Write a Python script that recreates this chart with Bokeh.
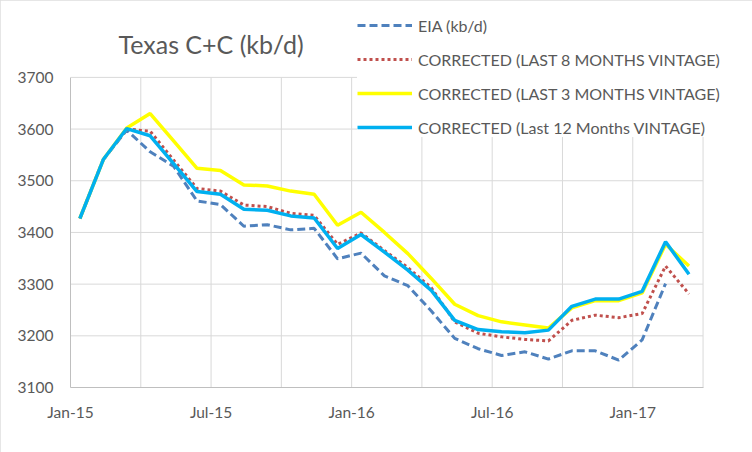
import numpy as np
from bokeh.plotting import figure
from bokeh.models import ColumnDataSource, Legend, LegendItem, FixedTicker, Label
from bokeh.embed import file_html
from bokeh.resources import INLINE

# ---------------- data ----------------
months = ["Jan-15", "Feb-15", "Mar-15", "Apr-15", "May-15", "Jun-15", "Jul-15",
          "Aug-15", "Sep-15", "Oct-15", "Nov-15", "Dec-15", "Jan-16", "Feb-16",
          "Mar-16", "Apr-16", "May-16", "Jun-16", "Jul-16", "Aug-16", "Sep-16",
          "Oct-16", "Nov-16", "Dec-16", "Jan-17", "Feb-17", "Mar-17"]

eia = [3427, 3541, 3598, 3556, 3528, 3461, 3454, 3412, 3415, 3405, 3408, 3349,
       3360, 3316, 3297, 3248, 3195, 3175, 3162, 3169, 3155, 3171, 3171, 3153,
       3192, 3301, np.nan]
last8 = [3427, 3541, 3600, 3596, 3540, 3485, 3480, 3453, 3450, 3437, 3433, 3377,
         3399, 3365, 3332, 3293, 3227, 3205, 3198, 3193, 3190, 3230, 3240, 3235,
         3243, 3335, 3281]
last3 = [3427, 3541, 3602, 3630, 3577, 3524, 3520, 3492, 3490, 3480, 3474, 3414,
         3439, 3400, 3359, 3311, 3261, 3239, 3227, 3221, 3215, 3254, 3268, 3268,
         3283, 3377, 3335]
last12 = [3427, 3541, 3601, 3587, 3533, 3479, 3474, 3445, 3443, 3432, 3428, 3369,
          3396, 3362, 3327, 3288, 3230, 3212, 3208, 3206, 3211, 3257, 3271, 3271,
          3286, 3382, 3319]

series_labels = ["EIA (kb/d)",
                 "CORRECTED (LAST 8 MONTHS VINTAGE)",
                 "CORRECTED (LAST 3 MONTHS VINTAGE)",
                 "CORRECTED (Last 12 Months VINTAGE)"]
title_text = "Texas C+C (kb/d)"

tick_positions = [0, 3, 6, 9, 12, 15, 18, 21, 24, 27]
tick_labels = ["Jan-15", "", "Jul-15", "", "Jan-16", "", "Jul-16", "", "Jan-17", ""]
y_ticks = [3100, 3200, 3300, 3400, 3500, 3600, 3700]

# month index, points sit inside their month slot
x = np.arange(len(months)) + 0.4
src = ColumnDataSource(dict(x=x, month=months, eia=eia, last8=last8,
                            last3=last3, last12=last12))

x_start, x_end = tick_positions[0], tick_positions[-1]
y_start, y_end = y_ticks[0], y_ticks[-1]

# ---------------- figure ----------------
# the frame is extended above / right of the drawn plot area so that the
# legend and title (which overlap the chart in the original) are not clipped
p = figure(width=752, height=452, output_backend="svg", toolbar_location=None,
           x_range=(x_start, 28.94), y_range=(y_start, 3841),
           min_border_left=70, min_border_right=4,
           min_border_top=4, min_border_bottom=65)
p.title.visible = False
p.outline_line_color = None
p.background_fill_color = "white"
p.border_fill_color = "white"
p.styles = {"outline": "2px solid #dedede", "outline-offset": "-2px"}

p.xgrid.visible = False
p.ygrid.visible = False

# axes
p.xaxis.ticker = FixedTicker(ticks=tick_positions)
p.xaxis.major_label_overrides = {t: l for t, l in zip(tick_positions, tick_labels)}
p.yaxis.ticker = FixedTicker(ticks=y_ticks)
p.xaxis.bounds = (x_start, x_end)
p.yaxis.bounds = (y_start, y_end)
for ax in (p.xaxis, p.yaxis):
    ax.axis_line_color = "#bfbfbf"
    ax.axis_line_width = 1
    ax.major_tick_line_color = None
    ax.minor_tick_line_color = None
    ax.major_tick_out = 0
    ax.major_tick_in = 0
    ax.major_label_text_font = "Lato"
    ax.major_label_text_font_size = "15.5px"
    ax.major_label_text_color = "#595959"
p.xaxis.major_label_standoff = 15
p.yaxis.major_label_standoff = 17

# gridlines limited to the chart's plot area
hy = y_ticks[1:]
p.segment(x0=[x_start] * len(hy), y0=hy, x1=[x_end] * len(hy), y1=hy,
          line_color="#d9d9d9", line_width=1)
vx = tick_positions[1:]
p.segment(x0=vx, y0=[y_start] * len(vx), x1=vx, y1=[y_end] * len(vx),
          line_color="#d9d9d9", line_width=1)

# lines
r_eia = p.line("x", "eia", source=src, line_color="#4f81bd", line_width=3,
               line_dash="8 4")
r_l8 = p.line("x", "last8", source=src, line_color="#c0504d", line_width=3,
              line_dash="3 3")
r_l3 = p.line("x", "last3", source=src, line_color="#ffff00", line_width=3.5)
r_l12 = p.line("x", "last12", source=src, line_color="#00b0f0", line_width=3.5)

# title
p.add_layout(Label(x=48, y=344, x_units="screen", y_units="screen",
                   text=title_text, text_font="Lato", text_font_size="25px",
                   text_color="#595959", text_baseline="alphabetic"))

legend = Legend(items=[LegendItem(label=series_labels[0], renderers=[r_eia]),
                       LegendItem(label=series_labels[1], renderers=[r_l8]),
                       LegendItem(label=series_labels[2], renderers=[r_l3]),
                       LegendItem(label=series_labels[3], renderers=[r_l12])],
                location=(287, 250))
legend.background_fill_color = "white"
legend.background_fill_alpha = 1
legend.border_line_color = None
legend.padding = 6
legend.margin = 0
legend.spacing = 14
legend.glyph_width = 55
legend.glyph_height = 20
legend.label_height = 20
legend.label_standoff = 6
legend.label_text_font = "Lato"
legend.label_text_font_size = "16px"
legend.label_text_color = "#595959"
p.add_layout(legend)

open("out.html", "w").write(file_html(p, INLINE))
